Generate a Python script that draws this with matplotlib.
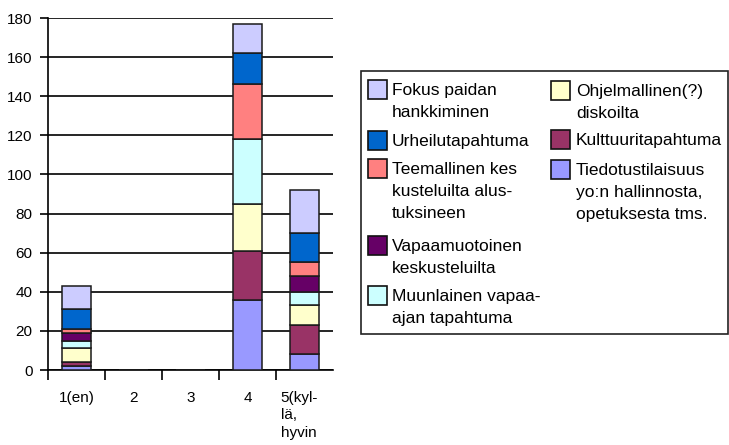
import matplotlib.pyplot as plt
from matplotlib.patches import Rectangle

plt.rcParams['font.family'] = ['Liberation Sans', 'DejaVu Sans']

categories = ['1(en)', '2', '3', '4', '5(kyl-\nlä,\nhyvin']

# stacked series, bottom to top
series_names = ['Tiedotustilaisuus\nyo:n hallinnosta,\nopetuksesta tms.',
                'Kulttuuritapahtuma',
                'Ohjelmallinen(?)\ndiskoilta',
                'Muunlainen vapaa-\najan tapahtuma',
                'Vapaamuotoinen\nkeskusteluilta',
                'Teemallinen kes\nkusteluilta alus-\ntuksineen',
                'Urheilutapahtuma',
                'Fokus paidan\nhankkiminen']
tiedotus    = [2, 0, 0, 36, 8]
kulttuuri   = [2, 0, 0, 25, 15]
ohjelma     = [7, 0, 0, 24, 10]
muunlainen  = [4, 0, 0, 33, 7]
vapaamuoto  = [4, 0, 0, 0, 8]
teema       = [2, 0, 0, 28, 7]
urheilu     = [10, 0, 0, 16, 15]
fokus       = [12, 0, 0, 15, 22]
series = [tiedotus, kulttuuri, ohjelma, muunlainen, vapaamuoto, teema, urheilu, fokus]
colors = ['#9999FF', '#993366', '#FFFFCC', '#CCFFFF', '#660066', '#FF8080', '#0066CC', '#CCCCFF']

W, H = 729, 445
fig = plt.figure(figsize=(W/100, H/100), dpi=100)
ax = fig.add_axes([48/W, 75/H, 285/W, 352/H])

x = list(range(1, len(categories) + 1))
bottom = [0] * len(x)
for vals, col in zip(series, colors):
    ax.bar(x, vals, width=0.5, bottom=bottom, color=col, edgecolor='#1a1a1a', linewidth=1.1, zorder=3)
    bottom = [b + v for b, v in zip(bottom, vals)]

ax.set_xlim(0.5, 5.5)
ax.set_ylim(0, 180)
ax.set_yticks(range(0, 181, 20))
ax.yaxis.grid(True, color='black', linewidth=1.2, zorder=0)
ax.set_axisbelow(True)
for s in ['top', 'right']:
    ax.spines[s].set_visible(False)
ax.spines['left'].set_linewidth(1.2)
ax.spines['bottom'].set_linewidth(1.2)
ax.tick_params(axis='y', length=6, width=1.2, labelsize=11, pad=5)

# category labels as plain texts under the axis
ax.set_xticks([])
ax.set_xticks([0.5, 1.5, 2.5, 3.5, 4.5], minor=True)
ax.tick_params(axis='x', which='minor', length=7, width=1.2)
xt = ax.get_xaxis_transform()
for i, lab in enumerate(categories):
    if '\n' in lab:
        ax.text(x[i] - 0.42, -21/352, lab, transform=xt, ha='left', va='top',
                fontsize=11, linespacing=1.3)
    else:
        ax.text(x[i], -21/352, lab, transform=xt, ha='center', va='top', fontsize=11)

# hand-built legend (pixel layout, top-left origin)
def fx(px):
    return px / W

def fy(py):
    return 1 - py / H

fig.patches.append(Rectangle((fx(361), fy(333.5)), fx(727.5) - fx(361), fy(70.5) - fy(333.5),
                             transform=fig.transFigure, facecolor='white',
                             edgecolor='#222222', linewidth=1.2, zorder=1))

left_col = [7, 6, 5, 4, 3]
right_col = [2, 1, 0]
left_tops = [80, 131, 159, 236, 286]
right_tops = [81, 130, 160]
line_h = 22

for order, tops, hx, tx in [(left_col, left_tops, 368, 392), (right_col, right_tops, 551, 576)]:
    for i, top in zip(order, tops):
        fig.patches.append(Rectangle((fx(hx), fy(top + 19)), fx(19), 19 / H,
                                     transform=fig.transFigure, facecolor=colors[i],
                                     edgecolor='#111111', linewidth=1.2, zorder=2))
        for k, line in enumerate(series_names[i].split('\n')):
            fig.text(fx(tx), fy(top + 15 + k * line_h), line, fontsize=12.5,
                     ha='left', va='baseline', zorder=3)

plt.savefig('out.png', dpi=100)
